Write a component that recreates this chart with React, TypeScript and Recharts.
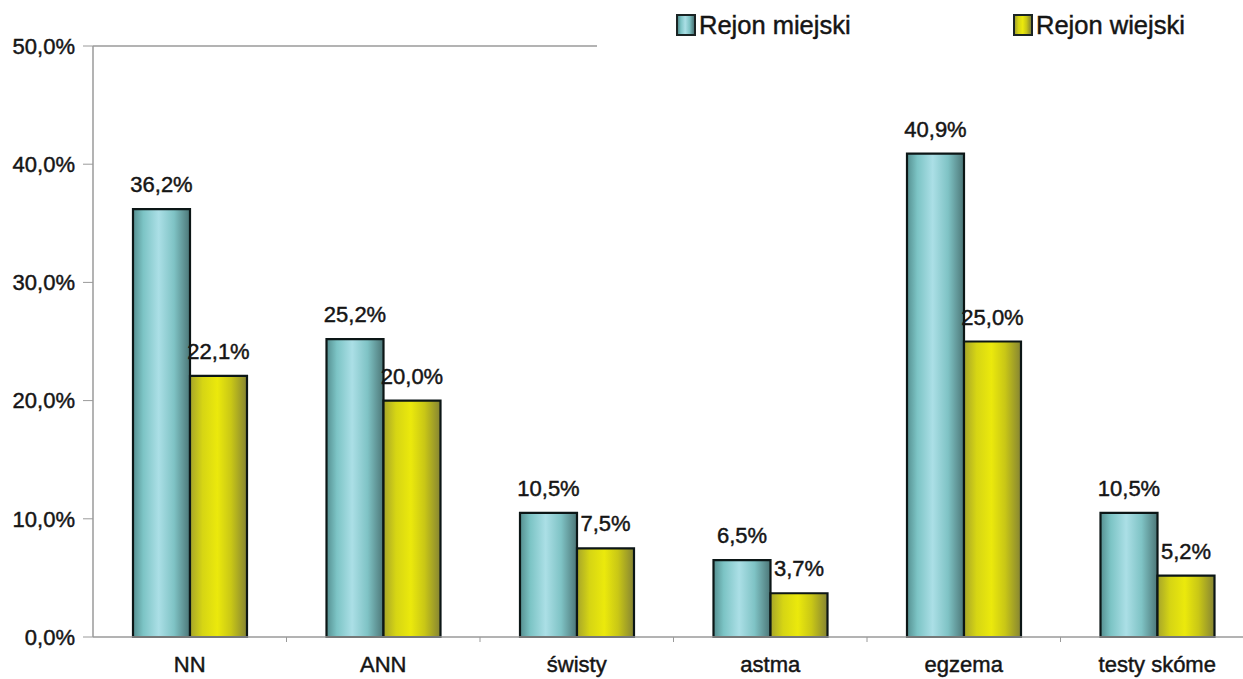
import React from 'react';
import { BarChart, Bar, XAxis, YAxis, ReferenceLine, LabelList } from 'recharts';

const categories = ['NN', 'ANN', 'świsty', 'astma', 'egzema', 'testy skóme'];
const urbanValues = [36.2, 25.2, 10.5, 6.5, 40.9, 10.5];
const ruralValues = [22.1, 20.0, 7.5, 3.7, 25.0, 5.2];
const seriesNames = ['Rejon miejski', 'Rejon wiejski'];
const yTicks = [0, 10, 20, 30, 40, 50];

const data = categories.map((cat, i) => ({ cat, urban: urbanValues[i], rural: ruralValues[i] }));

const fmt = (v: number) => v.toFixed(1).replace('.', ',') + '%';

const TEXT = '#151515';
const AXIS = '#9a9a9a';
const FONT = '"Liberation Sans", Arial, sans-serif';
const TEXT_STROKE = 0.45;

const CYAN_STOPS = [
    ['0%', '#558f90'],
    ['18%', '#7cc4c5'],
    ['45%', '#abdfe6'],
    ['72%', '#7fc3c5'],
    ['100%', '#4c7677'],
];
const YELLOW_STOPS = [
    ['0%', '#a6a52a'],
    ['22%', '#d6d514'],
    ['48%', '#ebe90c'],
    ['72%', '#c9c716'],
    ['100%', '#858433'],
];

const cssGradient = (stops: string[][]) => `linear-gradient(to right, ${stops.map(([o, c]) => `${c} ${o}`).join(', ')})`;

// category label plus a short tick at the right edge of each band
const CategoryTick = (props: any) => {
    const { x, y, payload, index } = props;
    const half = payload?.offset || 0;
    return (
        <g>
            {index < categories.length - 1 && half > 0 && (
                <line x1={x + half} x2={x + half} y1={y} y2={y + 5} stroke={AXIS} strokeWidth={1} />
            )}
            <text x={x} y={y + 35} textAnchor="middle" fontSize={22} fill={TEXT} stroke={TEXT} strokeWidth={TEXT_STROKE}>
                {payload.value}
            </text>
        </g>
    );
};

const legendItems = [
    { name: seriesNames[0], stops: CYAN_STOPS, left: 79 },
    { name: seriesNames[1], stops: YELLOW_STOPS, left: 416 },
];

export default function App() {
    return (
        <div style={{ position: 'fixed', left: 0, top: 0, width: 1243, height: 679, overflow: 'hidden', background: '#fff', fontFamily: FONT }}>
            <BarChart width={1254} height={679} data={data} margin={{ top: 46, right: 0, bottom: 0, left: 0 }} barGap={0}>
                <defs>
                    <linearGradient id="gradUrban" x1="0" y1="0" x2="1" y2="0">
                        {CYAN_STOPS.map(([o, c]) => <stop key={o} offset={o} stopColor={c} />)}
                    </linearGradient>
                    <linearGradient id="gradRural" x1="0" y1="0" x2="1" y2="0">
                        {YELLOW_STOPS.map(([o, c]) => <stop key={o} offset={o} stopColor={c} />)}
                    </linearGradient>
                </defs>
                <XAxis
                    dataKey="cat"
                    height={42}
                    interval={0}
                    tickLine={false}
                    tickSize={0}
                    tickMargin={0}
                    axisLine={{ stroke: AXIS, strokeWidth: 1.5 }}
                    tick={<CategoryTick />}
                />
                <YAxis
                    width={93}
                    domain={[0, 50]}
                    ticks={yTicks}
                    tickFormatter={fmt}
                    tickSize={10}
                    tickMargin={8}
                    axisLine={{ stroke: AXIS, strokeWidth: 1.5 }}
                    tickLine={{ stroke: AXIS, strokeWidth: 1 }}
                    tick={{ fontSize: 22, fill: TEXT, stroke: TEXT, strokeWidth: TEXT_STROKE }}
                />
                <ReferenceLine y={50} stroke={AXIS} strokeWidth={1.5} />
                <Bar dataKey="urban" name={seriesNames[0]} barSize={57} fill="url(#gradUrban)" stroke="#0c1616" strokeWidth={2.2} isAnimationActive={false}>
                    <LabelList dataKey="urban" position="top" offset={17} formatter={fmt} fontSize={22} fill={TEXT} stroke={TEXT} strokeWidth={TEXT_STROKE} />
                </Bar>
                <Bar dataKey="rural" name={seriesNames[1]} barSize={57} fill="url(#gradRural)" stroke="#0c1616" strokeWidth={2.2} isAnimationActive={false}>
                    <LabelList dataKey="rural" position="top" offset={17} formatter={fmt} fontSize={22} fill={TEXT} stroke={TEXT} strokeWidth={TEXT_STROKE} />
                </Bar>
            </BarChart>

            {/* legend box sits over the top gridline, as in the original spreadsheet chart */}
            <div style={{ position: 'absolute', left: 597, top: 0, width: 660, height: 58, background: '#fff' }}>
                {legendItems.map((item) => (
                    <div key={item.name} style={{ position: 'absolute', left: item.left, top: 10, display: 'flex', alignItems: 'center' }}>
                        <span
                            style={{
                                display: 'inline-block',
                                width: 16,
                                height: 18,
                                border: '2.5px solid #1a2424',
                                background: cssGradient(item.stops),
                                marginRight: 3,
                            }}
                        />
                        <span style={{ fontSize: 25.5, color: TEXT, lineHeight: '30px', WebkitTextStroke: `${TEXT_STROKE}px ${TEXT}` }}>{item.name}</span>
                    </div>
                ))}
            </div>
        </div>
    );
}
